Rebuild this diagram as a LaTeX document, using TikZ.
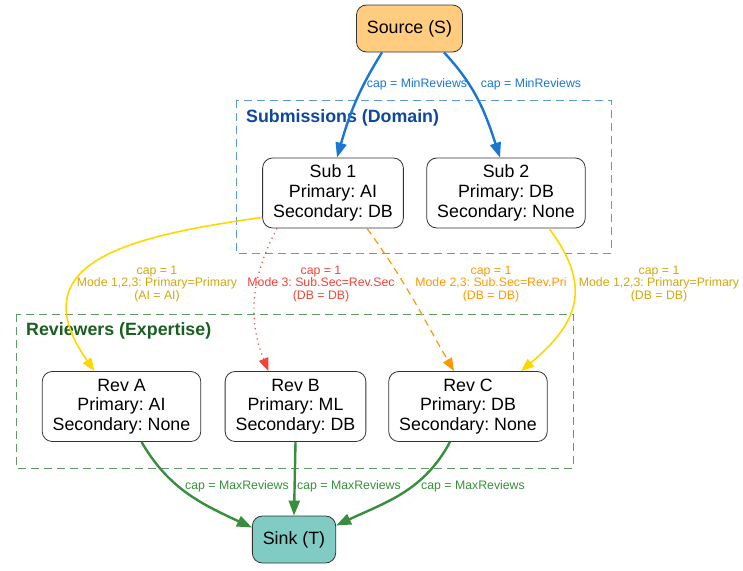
\documentclass[tikz,border=0pt]{standalone}
\usepackage{fontspec}
\setmainfont{Liberation Sans}
\usetikzlibrary{arrows.meta}
\frenchspacing

\definecolor{srcfill}{HTML}{FFCC80}
\definecolor{sinkfill}{HTML}{80CBC4}
\definecolor{nodeline}{HTML}{333333}
\definecolor{capblue}{HTML}{1976D2}
\definecolor{capgreen}{HTML}{388E3C}
\definecolor{matchgold}{HTML}{FFD700}
\definecolor{goldtext}{HTML}{D1A70E}
\definecolor{matchred}{HTML}{F44336}
\definecolor{matchorange}{HTML}{FF9800}
\definecolor{subframe}{HTML}{5B9BD5}
\definecolor{subtitle}{HTML}{0D47A1}
\definecolor{revframe}{HTML}{5E9B66}
\definecolor{revtitle}{HTML}{1B5E20}

\begin{document}
\begin{tikzpicture}[
		x=1pt, y=1pt,
		every node/.style={font=\fontsize{17.8}{19.7}\selectfont},
		entity/.style={draw=nodeline, fill=white, rounded corners=10pt, align=center, inner xsep=10.5pt, minimum height=70pt, line width=0.8pt},
		terminal/.style={entity, minimum height=47pt},
		caplabel/.style={font=\fontsize{12.3}{12.4}\selectfont, align=center, inner sep=0pt},
		flow/.style={-{Triangle[length=15pt,width=11pt]}, line width=2.4pt},
		match/.style={-{Triangle[length=13pt,width=10pt]}, line width=1.6pt},
		frame/.style={dash pattern=on 8pt off 5pt, line width=1pt},
		frametitle/.style={font=\fontsize{17.8}{20}\selectfont\bfseries, anchor=west, inner sep=0pt}
		]
		\useasboundingbox (0,0) rectangle (743,-570);
		
		% Clusters
		\draw[frame, subframe] (236,-100) rectangle (611,-253);
		\node[frametitle, text=subtitle] (subhead) at (246,-118) {Submissions (Domain)};
		\draw[frame, revframe] (16,-314) rectangle (573,-468);
		\node[frametitle, text=revtitle] (revhead) at (26,-331) {Reviewers (Expertise)};
		
		% Source and sink
		\node[terminal, fill=srcfill] (src) at (409.5,-28.5) {Source (S)};
		\node[terminal, fill=sinkfill] (sink) at (294,-539.5) {Sink (T)};
		
		% Submissions
		\node[entity] (sub1) at (333,-193) {Sub 1\\Primary: AI\\Secondary: DB};
		\node[entity] (sub2) at (506,-193) {Sub 2\\Primary: DB\\Secondary: None};
		
		% Reviewers
		\node[entity] (revA) at (121.5,-406.5) {Rev A\\Primary: AI\\Secondary: None};
		\node[entity] (revB) at (295.5,-406.5) {Rev B\\Primary: ML\\Secondary: DB};
		\node[entity] (revC) at (468,-406.5) {Rev C\\Primary: DB\\Secondary: None};
		
		% Source edges
		\draw[flow, capblue] ([xshift=-27.5pt]src.south) to[out=-122, in=74] ([xshift=4pt]sub1.north);
		\draw[flow, capblue] ([xshift=34.5pt]src.south) to[out=-47, in=108] ([xshift=-6pt]sub2.north);
		\node[caplabel, text=capblue] (capS1) at (417,-84) {cap = MinReviews};
		\node[caplabel, text=capblue] (capS2) at (531,-84) {cap = MinReviews};
		
		% Matching edges
		\draw[match, matchgold] ([yshift=11pt]sub1.south west) to[out=188, in=125, looseness=1.5] ([xshift=-27pt]revA.north);
		\draw[match, matchred, line width=1.2pt, dash pattern=on 1.2pt off 4pt] ([xshift=-56pt]sub1.south) to[out=-118, in=112] ([xshift=-27pt]revB.north);
		\draw[match, matchorange, line width=1.2pt, dash pattern=on 7pt off 5pt] ([xshift=34pt]sub1.south) to[out=-54, in=120] ([xshift=-14pt]revC.north);
		\draw[match, matchgold] ([xshift=43pt]sub2.south) to[out=-53, in=40, looseness=1.3] ([xshift=53pt]revC.north);
		\node[caplabel, text=goldtext] (capAA) at (157,-284) {cap = 1\\Mode 1,2,3: Primary=Primary\\(AI = AI)};
		\node[caplabel, text=matchred] (capBB) at (321,-284) {cap = 1\\Mode 3: Sub.Sec=Rev.Sec\\(DB = DB)};
		\node[caplabel, text=matchorange] (capCC) at (491,-284) {cap = 1\\Mode 2,3: Sub.Sec=Rev.Pri\\(DB = DB)};
		\node[caplabel, text=goldtext] (capDC) at (659,-284) {cap = 1\\Mode 1,2,3: Primary=Primary\\(DB = DB)};
		
		% Sink edges
		\draw[flow, capgreen] ([xshift=20pt]revA.south) to[out=-60, in=155] ([yshift=12pt]sink.west);
		\draw[flow, capgreen] (revB.south) -- (sink.north);
		\draw[flow, capgreen] ([xshift=-18pt]revC.south) to[out=-118, in=25] ([yshift=14pt]sink.east);
		\node[caplabel, text=capgreen] (capTA) at (237,-486) {cap = MaxReviews};
		\node[caplabel, text=capgreen] (capTB) at (349,-486) {cap = MaxReviews};
		\node[caplabel, text=capgreen] (capTC) at (473,-486) {cap = MaxReviews};
		
	\end{tikzpicture}
\end{document}
